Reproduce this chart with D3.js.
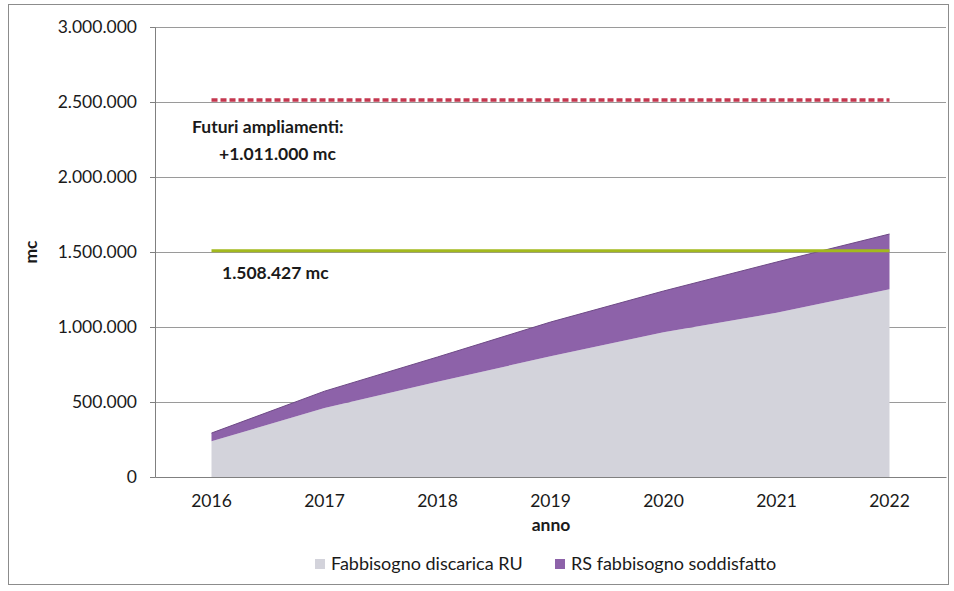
<!DOCTYPE html>
<html>
<head>
<meta charset="utf-8">
<script src="https://cdn.jsdelivr.net/npm/d3@7"></script>
<style>
  body { margin: 0; background: #fff; }
  text { font-family: Lato, "Open Sans", sans-serif; fill: #1a1a1a; }
</style>
</head>
<body>
<div id="chart"></div>
<script>
var width = 954,
    height = 591;

// data
var years = ["2016", "2017", "2018", "2019", "2020", "2021", "2022"];
var fabbisognoRU = [238000, 460000, 635000, 805000, 965000, 1095000, 1252000];
var rsSoddisfatto = [55000, 112000, 165000, 228000, 275000, 338000, 368000];
var yTicks = [0, 500000, 1000000, 1500000, 2000000, 2500000, 3000000];
var capacitaAttuale = 1508427;
var capacitaFutura = 2514000;
var seriesNames = ["Fabbisogno discarica RU", "RS fabbisogno soddisfatto"];
var seriesColors = ["#d3d3db", "#8d62a9"];

var margin = {left: 155, right: 8, top: 27, bottom: 114};

var svg = d3.select('#chart').append('svg')
    .attr('width', width)
    .attr('height', height);

// outer frame
svg.append('rect')
    .attr('x', 8.5).attr('y', 4.5)
    .attr('width', 940).attr('height', 580)
    .attr('fill', 'none')
    .attr('stroke', '#8c8c8c');

let scaleX = d3.scaleBand().domain(years).range([margin.left, width - margin.right]);
let scaleY = d3.scaleLinear().domain([0, 3000000]).range([height - margin.bottom, margin.top]);
let cx = d => scaleX(d) + scaleX.bandwidth() / 2;

var fmt = d3.formatLocale({decimal: ",", thousands: ".", grouping: [3], currency: ["", "€"]}).format(",d");

// gridlines
svg.append('g').selectAll('line').data(yTicks.slice(1)).enter()
    .append('line')
    .attr('x1', margin.left).attr('x2', width - margin.right)
    .attr('y1', d => scaleY(d) + 0.5).attr('y2', d => scaleY(d) + 0.5)
    .attr('stroke', '#9a9a9a');

// stacked areas
var rows = years.map((y, i) => ({anno: y, ru: fabbisognoRU[i], rs: rsSoddisfatto[i]}));
var stacked = d3.stack().keys(["ru", "rs"])(rows);
var area = d3.area()
    .x(d => cx(d.data.anno))
    .y0(d => scaleY(d[0]))
    .y1(d => scaleY(d[1]));

svg.append('g').selectAll('path').data(stacked).enter()
    .append('path')
    .attr('d', area)
    .attr('fill', (d, i) => seriesColors[i]);

// top edge of purple area
svg.append('path')
    .datum(stacked[1])
    .attr('d', d3.line().x(d => cx(d.data.anno)).y(d => scaleY(d[1])))
    .attr('fill', 'none')
    .attr('stroke', '#6e4a86')
    .attr('stroke-width', 1);

// capacity lines
svg.append('line')
    .attr('x1', cx(years[0])).attr('x2', cx(years[years.length - 1]))
    .attr('y1', scaleY(capacitaAttuale)).attr('y2', scaleY(capacitaAttuale))
    .attr('stroke', '#a3b91e')
    .attr('stroke-width', 3);

svg.append('line')
    .attr('x1', cx(years[0])).attr('x2', cx(years[years.length - 1]))
    .attr('y1', scaleY(capacitaFutura)).attr('y2', scaleY(capacitaFutura))
    .attr('stroke', '#c4374f')
    .attr('stroke-width', 3.5)
    .attr('stroke-dasharray', '6,3');

// axes
var axisY = svg.append('g')
    .attr('transform', 'translate(' + margin.left + ',0)')
    .call(d3.axisLeft(scaleY).tickValues(yTicks).tickFormat(fmt).tickSize(5).tickPadding(13));
axisY.select('.domain').attr('stroke', '#808080');
axisY.selectAll('.tick line').attr('stroke', '#808080');
axisY.selectAll('.tick text').attr('font-size', 17.5).attr('fill', '#1a1a1a');

var axisX = svg.append('g')
    .attr('transform', 'translate(0,' + scaleY(0) + ')')
    .call(d3.axisBottom(scaleX).tickSize(0).tickPadding(18));
axisX.select('.domain').attr('stroke', '#808080');
axisX.selectAll('.tick text').attr('font-size', 17.5).attr('fill', '#1a1a1a');

// axis titles
svg.append('text')
    .attr('x', 551).attr('y', 531)
    .attr('text-anchor', 'middle')
    .attr('font-size', 17.5).attr('font-weight', 'bold')
    .text('anno');

svg.append('text')
    .attr('transform', 'translate(37,' + scaleY(1500000) + ') rotate(-90)')
    .attr('text-anchor', 'middle')
    .attr('font-size', 17.5).attr('font-weight', 'bold')
    .text('mc');

// annotations
svg.append('text')
    .attr('x', 192).attr('y', 133)
    .attr('font-size', 17.5).attr('font-weight', 'bold')
    .text('Futuri ampliamenti:');
svg.append('text')
    .attr('x', 219).attr('y', 160)
    .attr('font-size', 17.5).attr('font-weight', 'bold')
    .text('+1.011.000 mc');
svg.append('text')
    .attr('x', 222).attr('y', 279)
    .attr('font-size', 17.5).attr('font-weight', 'bold')
    .text(fmt(capacitaAttuale) + ' mc');

// legend
var legendX = [315, 555];
var legend = svg.append('g').selectAll('g').data(seriesNames).enter()
    .append('g')
    .attr('transform', (d, i) => 'translate(' + legendX[i] + ',559)');
legend.append('rect')
    .attr('width', 10).attr('height', 10)
    .attr('fill', (d, i) => seriesColors[i]);
legend.append('text')
    .attr('x', 16).attr('y', 11)
    .attr('font-size', 18)
    .text(d => d);
</script>
</body>
</html>
